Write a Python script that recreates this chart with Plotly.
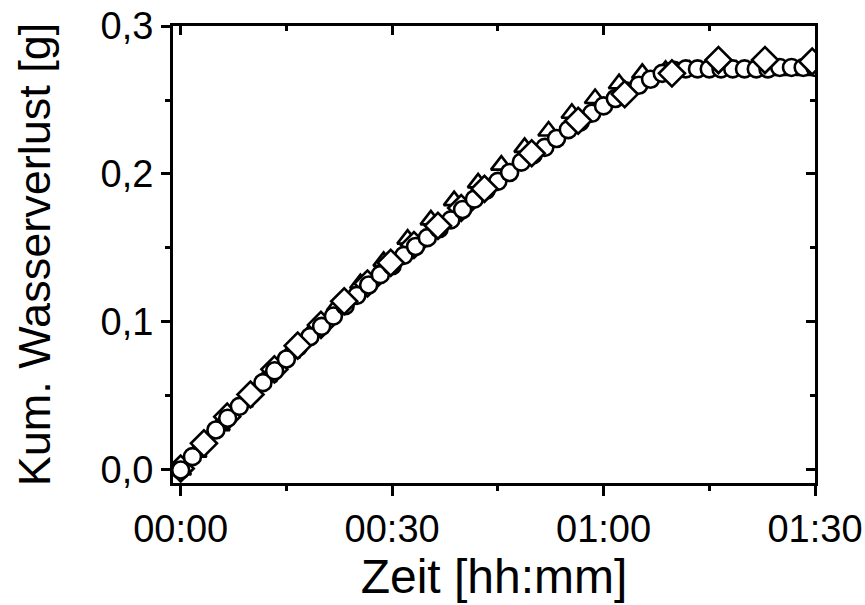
import plotly.graph_objects as go

# ---- data (minutes, grams) ----
circle_t = [0, 1.67, 3.33, 5, 6.67, 8.33, 10, 11.67, 13.33, 15, 16.67, 18.33, 20, 21.67,
            23.33, 25, 26.67, 28.33, 30, 31.67, 33.33, 35, 36.67, 38.33, 40, 41.67, 43.33,
            45, 46.67, 48.33, 50, 51.67, 53.33, 55, 56.67, 58.33, 60, 61.67, 63.33, 65,
            66.67, 68.33, 70, 71.67, 73.33, 75, 76.67, 78.33, 80, 81.67, 83.33, 85, 86.67,
            88.33, 90]
circle_v = [0.000, 0.009, 0.018, 0.027, 0.035, 0.043, 0.051, 0.059, 0.067, 0.075, 0.083,
            0.090, 0.097, 0.104, 0.111, 0.118, 0.125, 0.132, 0.138, 0.145, 0.151, 0.157,
            0.163, 0.169, 0.176, 0.183, 0.189, 0.195, 0.201, 0.208, 0.213, 0.218, 0.224,
            0.230, 0.235, 0.241, 0.246, 0.251, 0.256, 0.260, 0.264, 0.268, 0.270, 0.271,
            0.271, 0.271, 0.271, 0.271, 0.271, 0.271, 0.271, 0.272, 0.272, 0.272, 0.272]

tri_t = [0, 2.2, 5.5, 8.8, 12.2, 15.5, 18.8, 22.2, 25.5, 28.8, 32.2, 35.5, 38.8, 42.2, 45.5,
         48.8, 52.2, 55.5, 58.8, 62.2, 65.5, 68.8, 72.2, 75.5, 78.8, 82.2, 85.5, 88.8]
tri_v = [0.000, 0.012, 0.030, 0.046, 0.063, 0.079, 0.095, 0.111, 0.126, 0.141, 0.156, 0.169,
         0.182, 0.194, 0.206, 0.218, 0.229, 0.241, 0.251, 0.261, 0.268, 0.270, 0.270, 0.270,
         0.270, 0.270, 0.270, 0.270]

diaA_t = [3.3, 9.9, 16.6, 23.2, 29.8, 36.5, 43.1, 49.8, 56.4, 63.0, 69.7, 76.3, 82.9, 89.6]
diaA_v = [0.018, 0.051, 0.084, 0.114, 0.140, 0.165, 0.190, 0.214, 0.236, 0.254, 0.268,
          0.277, 0.277, 0.276]

diaB_t = [0, 6.6, 13.3, 19.9, 26.5, 33.1, 39.8]
diaB_v = [0.001, 0.036, 0.068, 0.098, 0.126, 0.152, 0.177]

x_tickvals = [0, 30, 60, 90]
x_ticktext = ["00:00", "00:30", "01:00", "01:30"]
x_minor = [15, 45, 75]
y_tickvals = [0.0, 0.1, 0.2, 0.3]
y_ticktext = ["0,0", "0,1", "0,2", "0,3"]
y_minor = [0.05, 0.15, 0.25]

FONT = "Liberation Sans, Arial, sans-serif"

fig = go.Figure()

def add(t, v, symbol, size):
    fig.add_trace(go.Scatter(
        x=t, y=v, mode="markers",
        marker=dict(symbol=symbol, size=size, color="white",
                    line=dict(color="black", width=2.6)),
        showlegend=False, hoverinfo="skip"))

add(tri_t, tri_v, "triangle-up", 18)
add(diaB_t, diaB_v, "diamond", 20)
add(circle_t, circle_v, "circle", 17)
add(diaA_t, diaA_v, "diamond", 20)

# dummy trace to activate mirrored axes
fig.add_trace(go.Scatter(x=[None], y=[None], xaxis="x2", yaxis="y2",
                         showlegend=False, hoverinfo="skip"))

xr = [-1.09, 90]
yr = [-0.0088, 0.3]

common = dict(showgrid=False, zeroline=False, showline=True, linecolor="black",
              linewidth=3, tickmode="array", tickcolor="black", tickwidth=2.5,
              automargin=False)

fig.update_layout(
    width=865, height=605,
    margin=dict(l=173, r=50, t=26, b=122),
    paper_bgcolor="white", plot_bgcolor="white",
    font=dict(family=FONT, color="black"),
    xaxis=dict(range=xr, tickvals=x_tickvals, ticktext=x_ticktext,
               ticks="outside", ticklen=10,
               tickfont=dict(size=38, family=FONT),
               minor=dict(tickmode="array", tickvals=x_minor, ticks="outside",
                          ticklen=5, tickwidth=2.5, tickcolor="black", showgrid=False),
               title=dict(text="Zeit [hh:mm]", font=dict(size=48, family=FONT), standoff=8),
               **common),
    yaxis=dict(range=yr, tickvals=y_tickvals, ticktext=y_ticktext,
               ticks="outside", ticklen=9,
               tickfont=dict(size=38, family=FONT),
               minor=dict(tickmode="array", tickvals=y_minor, ticks="outside",
                          ticklen=5, tickwidth=2.5, tickcolor="black", showgrid=False),
               title=dict(text="Kum. Wasserverlust [g]", font=dict(size=45, family=FONT), standoff=36),
               **common),
    xaxis2=dict(range=xr, overlaying="x", side="top", tickvals=x_tickvals,
                showticklabels=False, ticks="inside", ticklen=9,
                minor=dict(tickmode="array", tickvals=x_minor, ticks="inside",
                           ticklen=5, tickwidth=2.5, tickcolor="black", showgrid=False),
                **common),
    yaxis2=dict(range=yr, overlaying="y", side="right", tickvals=y_tickvals,
                showticklabels=False, ticks="inside", ticklen=9,
                minor=dict(tickmode="array", tickvals=y_minor, ticks="inside",
                           ticklen=5, tickwidth=2.5, tickcolor="black", showgrid=False),
                **common),
)

fig.write_html("out.html")
